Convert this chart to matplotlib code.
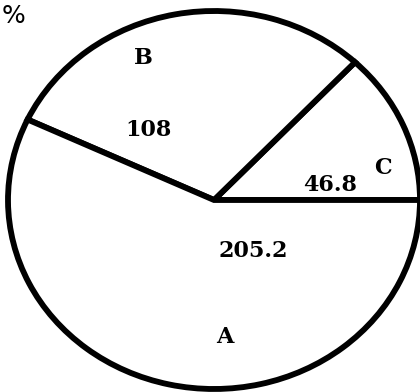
import matplotlib
matplotlib.use("Agg")
import matplotlib.pyplot as plt

categories = ["A", "B", "C"]
values = [205.2, 108, 46.8]
value_labels = ["205.2", "108", "46.8"]

W, H = 420, 392
fig = plt.figure(figsize=(W / 100, H / 100), dpi=100)
fig.patch.set_facecolor("white")

# pie ellipse geometry in pixels
cx, cy, rx, ry = 214, 200, 206, 189
ax = fig.add_axes([(cx - rx) / W, (H - cy - ry) / H, 2 * rx / W, 2 * ry / H])

# draw with C first (counterclockwise from east), then B, then A
order = [2, 1, 0]
wedges, _ = ax.pie([values[i] for i in order], startangle=0, counterclock=True,
                   radius=1, colors=["white"] * 3,
                   wedgeprops=dict(edgecolor="black", linewidth=4.2))
for w in wedges:
    w.set_clip_on(False)
ax.set_xlim(-1, 1)
ax.set_ylim(-1, 1)
ax.set_aspect("auto")
ax.axis("off")

font = dict(family="DejaVu Serif", fontweight="bold", fontsize=16, color="black",
            ha="center", va="center")
cat_pos = {"A": (0.053, -0.725), "B": (-0.345, 0.751), "C": (0.82, 0.169)}
val_pos = {"A": (0.189, -0.27), "B": (-0.32, 0.37), "C": (0.563, 0.079)}
for cat, lab in zip(categories, value_labels):
    ax.text(*cat_pos[cat], cat, **font)
    ax.text(*val_pos[cat], lab, **font)

fig.text(25 / W, 1 - 16 / H, "%", ha="right", va="center", fontsize=18,
         family="DejaVu Sans", color="black")

fig.savefig("out.png", dpi=100)
